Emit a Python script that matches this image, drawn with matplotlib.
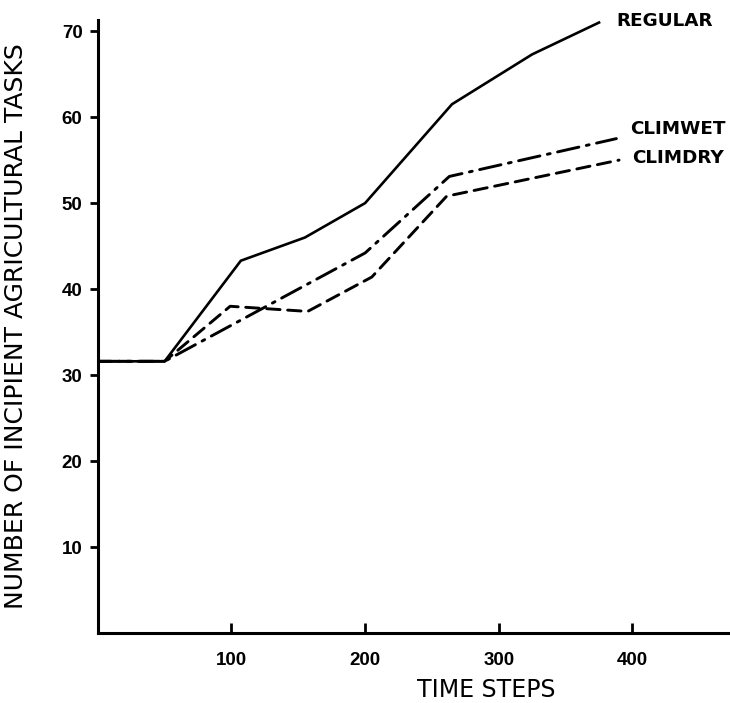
import matplotlib
matplotlib.use("Agg")
import matplotlib.pyplot as plt

# Simulation runs: number of incipient agricultural tasks over time
regular_t = [0, 50, 107, 155, 200, 265, 325, 375]
regular_n = [31.6, 31.6, 43.3, 46.0, 50.0, 61.5, 67.3, 71.0]

climwet_t = [0, 50, 200, 263, 388]
climwet_n = [31.6, 31.6, 44.2, 53.1, 57.5]

climdry_t = [0, 50, 99, 157, 205, 261, 390]
climdry_n = [31.6, 31.6, 38.0, 37.4, 41.4, 50.8, 55.0]

series_labels = ["REGULAR", "CLIMWET", "CLIMDRY"]
label_pos = [(388, 71.2), (398, 58.6), (400, 55.3)]

x_ticks = [100, 200, 300, 400]
y_ticks = [10, 20, 30, 40, 50, 60, 70]

plt.rcParams["font.family"] = ["DejaVu Sans"]

fig = plt.figure(figsize=(7.3, 7.03), dpi=100)
ax = fig.add_axes([0.134, 0.0996, 0.866, 0.872])

ax.plot(regular_t, regular_n, color="black", lw=1.9, solid_joinstyle="round")
ax.plot(climwet_t, climwet_n, color="black", lw=2.1,
        dashes=(7.5, 2.6, 1, 2.6), dash_capstyle="round")
ax.plot(climdry_t, climdry_n, color="black", lw=2.1,
        dashes=(4.6, 2.6), dash_capstyle="round")

for text, (x, y) in zip(series_labels, label_pos):
    ax.text(x, y, text, fontsize=13.2, fontweight="bold", ha="left",
            va="center", clip_on=False)

ax.set_xlim(0, 473)
ax.set_ylim(0, 71.3)
ax.set_xticks(x_ticks)
ax.set_yticks(y_ticks)

for side in ("top", "right"):
    ax.spines[side].set_visible(False)
for side in ("left", "bottom"):
    ax.spines[side].set_linewidth(2.2)

ax.tick_params(axis="x", direction="in", length=7, width=2, pad=14)
ax.tick_params(axis="y", direction="out", length=6, width=2, pad=5)
for lbl in ax.get_xticklabels() + ax.get_yticklabels():
    lbl.set_fontfamily("Liberation Sans")
    lbl.set_fontweight("bold")
    lbl.set_fontsize(13.5)

ax.set_xlabel("TIME STEPS", fontsize=17, labelpad=6)
ax.xaxis.label.set_x(0.615)
ax.set_ylabel("NUMBER OF INCIPIENT AGRICULTURAL TASKS", fontsize=18,
              labelpad=24)

fig.savefig("out.png", dpi=100)
